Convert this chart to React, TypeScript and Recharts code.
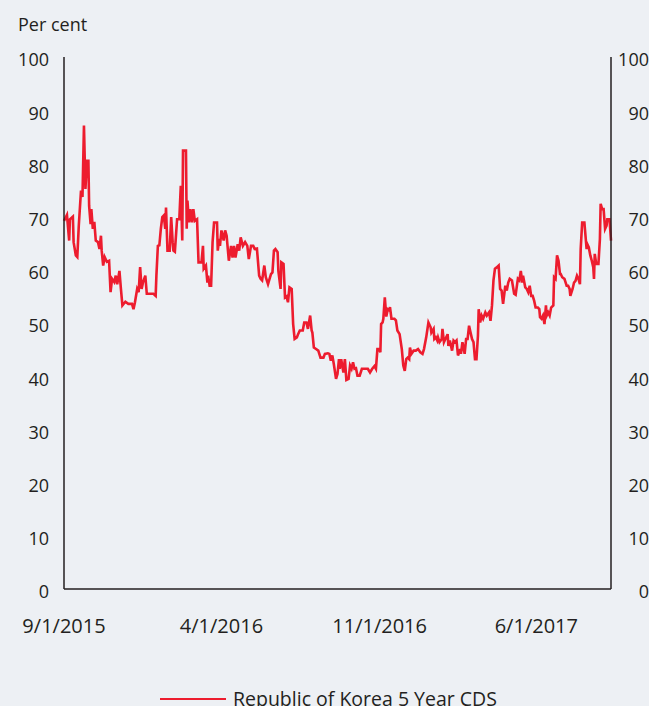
import React from "react";
import { LineChart, Line, XAxis, YAxis } from "recharts";

// days since 9/1/2015
const days = [
  0, 4, 7, 8, 12, 13, 16, 18, 20, 23, 25, 27, 29, 31, 33, 34, 36, 37, 39, 41,
  43, 46, 48, 50, 51, 53, 55, 58, 61, 63, 65, 68, 70, 72, 75, 77, 79, 83, 87, 92,
  94, 96, 99, 101, 103, 105, 107, 110, 112, 121, 124, 125, 127, 129, 131, 133, 135, 137, 138, 140,
  143, 145, 147, 148, 150, 153, 156, 158, 160, 161, 165, 166, 167, 169, 171, 173, 175, 177, 180, 182,
  186, 188, 189, 192, 194, 195, 197, 199, 201, 203, 207, 208, 210, 211, 213, 216, 218, 220, 223, 226,
  228, 230, 232, 235, 237, 239, 242, 245, 248, 250, 253, 256, 258, 261, 264, 266, 268, 271, 273, 276,
  280, 282, 284, 286, 289, 290, 293, 294, 297, 299, 301, 303, 305, 308, 310, 312, 315, 317, 319, 323,
  325, 328, 330, 333, 335, 336, 338, 341, 344, 347, 351, 353, 357, 359, 361, 363, 365, 368, 370, 372,
  373, 375, 378, 380, 382, 385, 387, 389, 391, 393, 395, 397, 400, 403, 407, 411, 414, 417, 420, 422,
  424, 426, 428, 429, 431, 432, 434, 436, 438, 440, 441, 443, 447, 449, 451, 454, 457, 459, 461, 463,
  465, 467, 468, 470, 473, 476, 479, 482, 485, 487, 490, 493, 496, 497, 500, 501, 503, 505, 506, 508,
  511, 512, 514, 516, 519, 520, 522, 525, 527, 529, 531, 533, 536, 537, 539, 542, 544, 546, 548, 550,
  552, 554, 556, 558, 560, 561, 563, 565, 567, 570, 572, 575, 577, 579, 581, 583, 585, 588, 590, 592,
  594, 597, 599, 601, 603, 606, 609, 611, 614, 616, 618, 620, 621, 624, 626, 628, 630, 632, 634, 636,
  638, 641, 643, 644, 646, 648, 650, 652, 653, 655, 657, 659, 662, 663, 665, 667, 669, 671, 672, 674,
  677, 680, 682, 684, 685, 688, 690, 692, 694, 696, 698, 699, 701, 704, 707, 708, 710, 712, 714, 716,
  717, 718, 720, 723, 725, 726, 728, 730, 732, 734, 735, 738, 740,
];

const koreaCds = [
  69.2, 70.3, 65.5, 69.5, 70, 65.2, 62.7, 62.4, 68.3, 74.9, 73.7, 87.1, 75.2, 80.5, 80.5, 72, 68.6, 71.4, 67.7, 69,
  65.5, 65.2, 63.9, 66.4, 63.6, 60.8, 62.4, 61.5, 61.7, 55.8, 58.3, 57.7, 58.9, 57.3, 59.8, 56.4, 53.3, 54, 53.6, 53.6,
  52.6, 53.9, 56.4, 55.8, 60.5, 56.4, 57.7, 58.9, 55.5, 55.5, 55.1, 58.9, 64.5, 64.6, 67.7, 69.9, 70.2, 67.7, 71.7, 63.6,
  63.6, 69.9, 65.2, 63.6, 63.4, 69.5, 69.5, 75.8, 65.5, 82.4, 82.4, 67.7, 73, 68.9, 71.4, 68.9, 71.4, 69.2, 69.5, 61.4,
  61.4, 64.5, 60.2, 60.8, 57.6, 58.9, 57, 57, 65.2, 68.9, 68.9, 63.6, 65.8, 64.5, 67.4, 65.5, 67.4, 66.4, 61.7, 64.5,
  62.3, 64.5, 62.3, 64.8, 63.6, 66.1, 64.5, 65.2, 64.5, 62, 64.5, 64.5, 63.9, 64, 58.9, 58.3, 58, 60.8, 58.6, 57.3,
  59.2, 59.5, 63.6, 63.9, 63.3, 59.8, 56.4, 61.4, 61.1, 54.8, 55, 53.9, 56.7, 56.4, 49.8, 47, 47.3, 48, 48.6, 48.6,
  50.1, 50.1, 48.9, 51.4, 48.6, 48.2, 45.4, 45.1, 44.8, 43.5, 43.5, 44.2, 44.3, 44.2, 42.9, 43.9, 42.3, 39.5, 40.4, 43.2,
  41.4, 43.2, 40.7, 43.2, 39.3, 39.5, 42, 41.4, 42.6, 41.4, 41.5, 40.1, 40.1, 41.4, 41.4, 41.4, 40.7, 41.4, 41.9, 41.4,
  45.1, 45.1, 44.5, 49.8, 50.1, 50.8, 54.8, 51.2, 52.6, 52.4, 53, 50.8, 50.8, 50.5, 48.6, 47.9, 45.1, 42, 41, 43.2,
  43.5, 43.2, 45.4, 44.2, 44.8, 44.8, 45.1, 44.5, 44.2, 45.1, 47.3, 50.1, 49.2, 48.2, 48.9, 47, 47.3, 46.7, 47.3, 46.4,
  47, 48.9, 46.4, 47, 47.9, 45.7, 46.7, 44.8, 46.7, 46.4, 46.7, 43.9, 45.1, 44.2, 46.4, 44.2, 47, 47, 49.5, 48.2,
  47, 46.4, 43.2, 43.2, 47.6, 52.6, 50.1, 51.4, 50.8, 52, 51.4, 52, 50.4, 53.3, 58, 60.2, 60.4, 60.8, 56.4, 56.1,
  53.6, 57, 56.1, 57.6, 58.3, 58, 55.5, 55.3, 58.3, 58, 59.8, 57.6, 58.9, 56.7, 56.4, 55.8, 57, 55.1, 55.1, 54.2,
  52.9, 52.9, 52.6, 51.1, 50.8, 51.4, 49.8, 53.3, 51.4, 52, 51.4, 52.9, 53.3, 58.6, 58.3, 62.7, 61.7, 59.2, 59.2, 58.6,
  58.3, 57, 57, 56.4, 55.1, 56.4, 57.6, 57.9, 58.9, 58.3, 57.3, 63.9, 68.9, 68.9, 63.9, 64.8, 64.2, 62.7, 61.7, 60.5,
  58.3, 63, 61.1, 61.1, 65.8, 72.4, 71.4, 71.4, 67.7, 68.3, 69.5, 69.5, 65.5,
];

// 9/1/2015, 4/1/2016, 11/1/2016, 6/1/2017
const xTicks = [0, 213, 427, 639];
const yTicks = [0, 10, 20, 30, 40, 50, 60, 70, 80, 90, 100];

const chartData = days.map((d, i) => ({ day: d, cds: koreaCds[i] }));

const fmtDate = (d: number) => {
  const dt = new Date(Date.UTC(2015, 8, 1 + d));
  return `${dt.getUTCMonth() + 1}/${dt.getUTCDate()}/${dt.getUTCFullYear()}`;
};

const textColor = "#231f20";
const lineColor = "#ed1c2e";
const font = "'Open Sans', sans-serif";

export default function App() {
  return (
    <div
      style={{
        position: "fixed",
        left: 0,
        top: 0,
        width: 649,
        height: 706,
        overflow: "hidden",
        background: "#edf0f4",
        fontFamily: font,
        color: textColor,
      }}
    >
      <div style={{ position: "absolute", left: 18, top: 12, fontSize: 18 }}>
        Per cent
      </div>
      <div style={{ position: "absolute", left: 0, top: 0 }}>
        <LineChart
          width={649}
          height={706}
          data={chartData}
          margin={{ top: 57, right: 0, left: 0, bottom: 0 }}
        >
          <XAxis
            dataKey="day"
            type="number"
            domain={[0, 740]}
            ticks={xTicks}
            tickFormatter={fmtDate}
            height={117}
            stroke={textColor}
            strokeWidth={1.5}
            tickLine={false}
            tickSize={0}
            tickMargin={30}
            tick={{ fontSize: 20, fill: textColor, fontFamily: font }}
          />
          <YAxis
            yAxisId="left"
            orientation="left"
            domain={[0, 100]}
            ticks={yTicks}
            width={64}
            stroke={textColor}
            strokeWidth={1.5}
            tickLine={false}
            tickSize={0}
            tickMargin={15}
            tick={{ fontSize: 18, fill: textColor, fontFamily: font, dy: 3 }}
          />
          {/* right-hand labels are right-aligned at the page edge */}
          <YAxis
            yAxisId="right"
            orientation="right"
            domain={[0, 100]}
            ticks={yTicks}
            width={38}
            stroke={textColor}
            strokeWidth={1.5}
            tickLine={false}
            tickSize={0}
            tickMargin={38}
            tick={{
              fontSize: 18,
              fill: textColor,
              fontFamily: font,
              dy: 3,
              textAnchor: "end",
            }}
          />
          <Line
            yAxisId="left"
            type="linear"
            dataKey="cds"
            stroke={lineColor}
            strokeWidth={2.6}
            dot={false}
            isAnimationActive={false}
          />
          {/* same series on the right scale so that axis gets its ticks */}
          <Line
            yAxisId="right"
            type="linear"
            dataKey="cds"
            stroke="none"
            dot={false}
            activeDot={false}
            legendType="none"
            isAnimationActive={false}
          />
        </LineChart>
      </div>
      <div
        style={{
          position: "absolute",
          left: 160,
          top: 685,
          display: "flex",
          alignItems: "center",
          fontSize: 19.5,
          whiteSpace: "nowrap",
        }}
      >
        <span
          style={{
            display: "inline-block",
            width: 66,
            height: 2,
            background: lineColor,
            marginRight: 7,
          }}
        />
        Republic of Korea 5 Year CDS
      </div>
    </div>
  );
}
